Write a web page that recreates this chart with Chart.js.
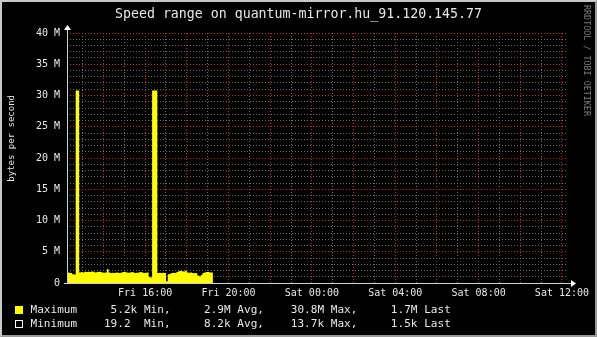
<!DOCTYPE html>
<html>
<head>
<meta charset="utf-8">
<script src="https://cdn.jsdelivr.net/npm/chart.js@4"></script>
<style>
  html, body { margin: 0; padding: 0; background: #000; }
  #frame {
    position: relative; width: 597px; height: 337px; box-sizing: border-box;
    background: #000; overflow: hidden;
    border-top: 2px solid #c8c8c8; border-left: 2px solid #c8c8c8;
    border-bottom: 2px solid #9a9a9a; border-right: 2px solid #9a9a9a;
  }
  #chart { position: absolute; left: -2px; top: -2px; }
  .txt { position: absolute; font-family: "DejaVu Sans Mono", monospace; color: #e8e8e8; white-space: pre; }
  #title { left: -2px; width: 597px; top: 4px; text-align: center; font-size: 13.25px; line-height: 16px; }
  #ytitle { left: 3px; top: 93px; font-size: 9px; writing-mode: vertical-rl; transform: rotate(180deg); line-height: 12px; }
  #mark { left: 580px; top: 3px; font-size: 8.4px; writing-mode: vertical-rl; color: #7c7c7c; line-height: 10px; }
  .row { left: 28.5px; font-size: 11px; letter-spacing: 0.05px; line-height: 13px; }
  .box { position: absolute; left: 13px; width: 8px; height: 8px; box-sizing: border-box; }
</style>
</head>
<body>
<div id="frame">
  <canvas id="chart" width="597" height="337"></canvas>
  <div id="title" class="txt"></div>
  <div id="ytitle" class="txt"></div>
  <div id="mark" class="txt">RRDTOOL / TOBI OETIKER</div>
  <div id="legend"></div>
</div>
<script>
document.addEventListener('DOMContentLoaded', () => {

    const chartTitle = 'Speed range on quantum-mirror.hu_91.120.145.77';
    const yAxisTitle = 'bytes per second';

    // samples: 5 minute steps starting Fri 12:15 (hours since Fri 00:00)
    const sampleStart = 12.25;
    const sampleStepMin = 5;
    // Maximum, in M bytes/s
    const maxSeries = [
        1.7, 1.65, 1.6, 1.4, 1.35, 30.8, 30.8, 1.7, 1.75, 1.7,
        1.8, 1.75, 1.8, 1.75, 1.85, 1.8, 1.7, 1.75, 1.8, 1.75,
        1.7, 1.65, 1.7, 2.2, 1.7, 1.6, 1.65, 1.6, 1.7, 1.65,
        1.6, 1.7, 1.75, 1.8, 1.7, 1.65, 1.7, 1.75, 1.7, 1.6,
        1.65, 1.7, 1.75, 1.7, 1.6, 1.65, 1.7, 1.0, 0.9, 30.8,
        30.8, 30.8, 1.6, 1.65, 1.6, 1.65, 1.6, 0.3, 1.4, 1.5,
        1.6, 1.65, 1.6, 1.75, 1.9, 1.95, 1.9, 1.85, 1.95, 1.7,
        1.65, 1.7, 1.6, 1.55, 1.6, 1.2, 1.05, 1.3, 1.6, 1.7,
        1.75, 1.75, 1.7, 1.7
    ];

    // axis range (hours) and ticks
    const xMin = 12.25;
    const xMax = 36.29;
    const yMax = 40;
    const dayNames = ['Fri', 'Sat'];

    // legend table
    const legendNames = ['Maximum', 'Minimum'];
    const legendColors = ['#ffff00', '#000000'];
    const legendMin = [' 5.2k', '19.2 '];
    const legendAvg = ['2.9M', '8.2k'];
    const legendMax = ['30.8M', '13.7k'];
    const legendLast = ['1.7M', '1.5k'];

    document.getElementById('title').innerText = chartTitle;
    document.getElementById('ytitle').innerText = yAxisTitle;

    const legendBox = document.getElementById('legend');
    legendNames.forEach((name, i) => {
        const top = 303 + i * 14;
        const box = document.createElement('div');
        box.className = 'box';
        box.style.top = (top + 1) + 'px';
        box.style.background = legendColors[i];
        box.style.border = i === 0 ? '1px solid #ffff00' : '1px solid #ffffff';
        legendBox.appendChild(box);
        const row = document.createElement('div');
        row.className = 'txt row';
        row.style.top = (top - 2) + 'px';
        row.innerText = name.padEnd(11) + legendMin[i] + ' Min,     ' + legendAvg[i] + ' Avg,    ' +
            legendMax[i].padStart(5) + ' Max,     ' + legendLast[i] + ' Last';
        legendBox.appendChild(row);
    });

    const points = maxSeries.map((v, i) => ({ x: sampleStart + i * sampleStepMin / 60, y: v }));
    // close last step
    points.push({ x: sampleStart + maxSeries.length * sampleStepMin / 60, y: maxSeries[maxSeries.length - 1] });

    const minorGrid = '#6c6c6c';
    const majorGrid = '#b02c2c';
    const axisColor = '#d0d0d0';

    // axis extensions with arrow heads, like rrdtool
    const arrowPlugin = {
        id: 'arrows',
        afterDraw(chart) {
            const { ctx, chartArea } = chart;
            ctx.save();
            ctx.strokeStyle = axisColor;
            ctx.fillStyle = '#ffffff';
            ctx.lineWidth = 1;
            ctx.beginPath();
            ctx.moveTo(chartArea.left + 0.5, chartArea.bottom);
            ctx.lineTo(chartArea.left + 0.5, chartArea.top - 4);
            ctx.moveTo(chartArea.left - 3, chartArea.bottom + 0.5);
            ctx.lineTo(chartArea.right + 4, chartArea.bottom + 0.5);
            ctx.stroke();
            ctx.beginPath();
            ctx.moveTo(chartArea.left - 3, chartArea.top - 3);
            ctx.lineTo(chartArea.left + 4, chartArea.top - 3);
            ctx.lineTo(chartArea.left + 0.5, chartArea.top - 8);
            ctx.closePath();
            ctx.fill();
            ctx.beginPath();
            ctx.moveTo(chartArea.right + 3, chartArea.bottom - 3);
            ctx.lineTo(chartArea.right + 3, chartArea.bottom + 4);
            ctx.lineTo(chartArea.right + 8, chartArea.bottom + 0.5);
            ctx.closePath();
            ctx.fill();
            ctx.restore();
        }
    };

    new Chart(document.getElementById('chart').getContext('2d'), {
        type: 'line',
        data: {
            datasets: [{
                label: 'Maximum',
                data: points,
                stepped: true,
                fill: 'origin',
                backgroundColor: '#ffff00',
                borderColor: '#ffff00',
                borderWidth: 0,
                pointRadius: 0
            }]
        },
        plugins: [arrowPlugin],
        options: {
            responsive: false,
            animation: false,
            devicePixelRatio: 1,
            layout: { padding: { top: 33, right: 29, left: 0, bottom: 0 } },
            plugins: { legend: { display: false }, tooltip: { enabled: false } },
            scales: {
                x: {
                    type: 'linear',
                    min: xMin,
                    max: xMax,
                    afterFit: (scale) => { scale.height = 54; },
                    afterBuildTicks: (scale) => {
                        const ticks = [];
                        for (let h = Math.ceil(xMin); h <= Math.floor(xMax); h++) ticks.push({ value: h });
                        scale.ticks = ticks;
                    },
                    border: { display: false, dash: [1, 2] },
                    grid: {
                        color: (c) => (c.tick && c.tick.value % 2 === 0) ? majorGrid : minorGrid,
                        tickColor: (c) => (c.tick && c.tick.value % 2 === 0) ? majorGrid : 'rgba(0,0,0,0)',
                        tickLength: 3,
                        lineWidth: 1,
                        tickBorderDash: [1, 2]
                    },
                    ticks: {
                        autoSkip: false,
                        maxRotation: 0,
                        padding: 1,
                        color: '#e8e8e8',
                        font: { family: 'DejaVu Sans Mono', size: 10 },
                        callback: (v) => {
                            if (v % 4 !== 0) return '';
                            const day = dayNames[Math.floor(v / 24)];
                            const hh = String(v % 24).padStart(2, '0');
                            return day + ' ' + hh + ':00';
                        }
                    }
                },
                y: {
                    min: 0,
                    max: yMax,
                    afterFit: (scale) => { scale.width = 67; },
                    border: { display: false, dash: [1, 2] },
                    grid: {
                        drawTicks: false,
                        color: (c) => c.tick.value === 0 ? 'rgba(0,0,0,0)' : (c.tick.value % 5 === 0 ? majorGrid : minorGrid)
                    },
                    ticks: {
                        stepSize: 1,
                        autoSkip: false,
                        padding: 7,
                        color: '#e8e8e8',
                        font: { family: 'DejaVu Sans Mono', size: 10 },
                        callback: (v) => v % 5 !== 0 ? '' : (v === 0 ? '0' : v + ' M')
                    }
                }
            }
        }
    });
});
</script>
</body>
</html>
